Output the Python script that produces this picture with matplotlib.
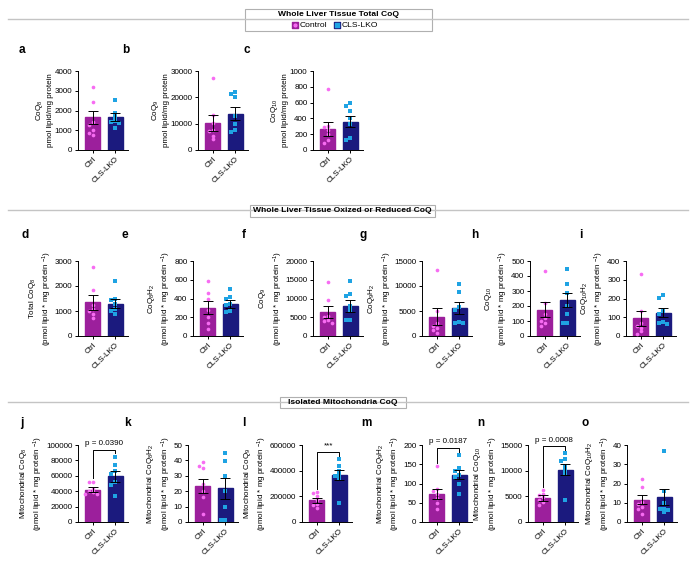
import numpy as np
import matplotlib
matplotlib.use("Agg")
import matplotlib.pyplot as plt
from matplotlib.patches import Rectangle

plt.rcParams['font.family'] = ['Liberation Sans', 'DejaVu Sans']
plt.rcParams['mathtext.fontset'] = 'custom'
plt.rcParams['mathtext.rm'] = 'Liberation Sans'
plt.rcParams['mathtext.it'] = 'Liberation Sans:italic'

# ---- data ----
groups = ["Ctrl", "CLS-LKO"]
panels = list("abcdefghijklmno")

ctrl_mean = [1650, 10300, 270, 1350, 300, 6400, 3900, 175, 95, 42000, 23.5, 170000, 74, 4700, 11.5]
ctrl_sem = [320, 3000, 90, 290, 70, 1550, 1650, 50, 40, 3200, 4.6, 20000, 13, 550, 2.4]
ko_mean = [1650, 13800, 360, 1300, 340, 8100, 5600, 240, 125, 59500, 21.8, 365000, 123, 10200, 13]
ko_sem = [200, 2500, 72, 180, 40, 1600, 1150, 47, 25, 7000, 6.9, 40000, 12, 1100, 4.2]

ctrl_pts = {
    'a': [3170, 2450, 1420, 1260, 1020, 860, 740],
    'b': [27300, 13400, 10200, 7600, 7200, 5500, 4000],
    'c': [770, 310, 290, 250, 200, 130, 90],
    'd': [2780, 1860, 1250, 1100, 1000, 900, 730],
    'e': [590, 460, 390, 280, 200, 140, 80],
    'f': [14300, 9600, 5300, 5000, 4200, 3900, 3600],
    'g': [13200, 5100, 2700, 2100, 1600, 1200, 600],
    'h': [435, 220, 150, 120, 100, 85, 70],
    'i': [332, 135, 70, 55, 45, 25, 10],
    'j': [52500, 51500, 43000, 40000, 38500, 37000, 36000],
    'k': [38.7, 36.5, 35, 25, 20, 16, 5.5],
    'l': [235000, 225000, 200000, 170000, 140000, 130000, 110000],
    'm': [145, 85, 80, 72, 62, 50, 35],
    'n': [6200, 5500, 5300, 4800, 4300, 3900, 3400],
    'o': [22.5, 18, 10.5, 9.5, 8, 7, 4],
}
ko_pts = {
    'a': [2550, 1870, 1650, 1450, 1400, 1350, 1100],
    'b': [21900, 21200, 20200, 12800, 10000, 7500, 6900],
    'c': [590, 560, 490, 400, 330, 150, 130],
    'd': [2200, 1500, 1450, 1300, 1100, 1000, 900],
    'e': [505, 420, 390, 340, 330, 270, 260],
    'f': [14800, 11300, 10700, 8000, 6900, 4300, 4200],
    'g': [10500, 8900, 5800, 5300, 2800, 2600, 2600],
    'h': [445, 345, 285, 200, 150, 90, 85],
    'i': [220, 205, 135, 120, 75, 70, 65],
    'j': [85000, 74000, 66000, 62000, 52000, 48000, 34000],
    'k': [45, 39.5, 30, 20, 10, 1, 1],
    'l': [490000, 440000, 400000, 370000, 360000, 340000, 150000],
    'm': [174, 139, 133, 122, 118, 100, 74],
    'n': [13400, 12200, 11800, 11000, 10200, 9400, 4200],
    'o': [37, 16, 10, 7, 6.5, 6, 5],
}
pvals = {'j': 'p = 0.0390', 'l': '***', 'm': 'p = 0.0187', 'n': 'p = 0.0008'}

ymax = [4000, 30000, 1000, 3000, 800, 20000, 15000, 500, 400, 100000, 50, 600000, 200, 15000, 40]
ystep = [1000, 10000, 200, 1000, 200, 5000, 5000, 100, 100, 20000, 10, 200000, 50, 5000, 10]

unit = "(pmol lipid * mg protein $^{-1}$)"
ylabels = [
    "CoQ$_8$\npmol lipid/mg protein",
    "CoQ$_9$\npmol lipid/mg protein",
    "CoQ$_{10}$\npmol lipid/mg protein",
    "Total CoQ$_8$\n" + unit,
    "CoQ$_8$H$_2$\n" + unit,
    "CoQ$_9$\n" + unit,
    "CoQ$_9$H$_2$\n" + unit,
    "CoQ$_{10}$\n" + unit,
    "CoQ$_{10}$H$_2$\n" + unit,
    "Mitochondrial CoQ$_8$\n" + unit,
    "Mitochondrial CoQ$_8$H$_2$\n" + unit,
    "Mitochondrial CoQ$_9$\n" + unit,
    "Mitochondrial CoQ$_9$H$_2$\n" + unit,
    "Mitochondrial CoQ$_{10}$\n" + unit,
    "Mitochondrial CoQ$_{10}$H$_2$\n" + unit,
]

# ---- layout (pixels) ----
W, H = 700, 578
ax_left = [78, 198, 313, 78, 193, 313, 422, 530, 626, 78, 188, 302, 422, 528, 627]
ax_top = [71] * 3 + [261] * 6 + [445] * 6
ax_bot = [150] * 3 + [336] * 6 + [522] * 6
lab_x = [19, 122, 244, 22, 122, 242, 359, 471, 579, 20, 124, 242, 361, 477, 581]
lab_y = [50] * 3 + [235] * 6 + [423] * 6
AXW = 50
FS = 5.8

c_bar, c_pt = '#9c1f9c', '#f76cf2'
k_bar, k_pt = '#1b1a7e', '#1fa3e3'

fig = plt.figure(figsize=(7, 5.78), dpi=100)


def swarm(vals, ym, hpx):
    order = np.argsort(vals)[::-1]
    placed = []
    offs = np.zeros(len(vals))
    for i in order:
        ypx = vals[i] / ym * hpx
        for cand in [0, -3.8, 3.8, -7.6, 7.6, -11.4, 11.4]:
            if all(abs(ypx - py) >= 3.4 or abs(cand - px) >= 3.6 for px, py in placed):
                break
        placed.append((cand, ypx))
        offs[i] = cand / 22.0
    return offs


for n, p in enumerate(panels):
    hpx = ax_bot[n] - ax_top[n]
    ax = fig.add_axes([ax_left[n] / W, 1 - ax_bot[n] / H, AXW / W, hpx / H])
    means = [ctrl_mean[n], ko_mean[n]]
    sems = [ctrl_sem[n], ko_sem[n]]
    ax.bar([0, 1], means, width=0.66, color=[c_bar, k_bar], edgecolor=[c_bar, k_bar], zorder=1)
    for x, v, cpt, mk in [(0, ctrl_pts[p], c_pt, 'o'), (1, ko_pts[p], k_pt, 's')]:
        v = np.array(v, dtype=float)
        ax.scatter(x + swarm(v, ymax[n], hpx), v, s=7, marker=mk, color=cpt, linewidths=0, zorder=3)
    ax.errorbar([0, 1], means, yerr=sems, fmt='none', ecolor='black', elinewidth=0.7,
                capsize=3.3, capthick=0.7, zorder=4)
    ax.set_xlim(-0.66, 1.57)
    ax.set_ylim(0, ymax[n])
    ax.set_yticks(np.arange(0, ymax[n] + ystep[n] / 2, ystep[n]))
    ax.set_xticks([0, 1])
    ax.set_xticklabels(groups, rotation=45, ha='right', rotation_mode='anchor')
    for s in ['top', 'right']:
        ax.spines[s].set_visible(False)
    for s in ['left', 'bottom']:
        ax.spines[s].set_linewidth(0.7)
    ax.tick_params(labelsize=FS, width=0.7, length=2.5, pad=1.5)
    ax.set_ylabel(ylabels[n], fontsize=FS, labelpad=0.5, linespacing=1.35)
    fig.text(lab_x[n] / W, 1 - lab_y[n] / H, p, fontsize=8.5, fontweight='bold', va='center')
    if p in pvals:
        r = ymax[n]
        lc = max(max(ctrl_pts[p]), ctrl_mean[n] + ctrl_sem[n]) + 0.04 * r
        lk = max(max(ko_pts[p]), ko_mean[n] + ko_sem[n]) + 0.04 * r
        top = max(lc, lk) + 0.05 * r
        ax.plot([0, 0, 1, 1], [lc, top, top, lk], color='black', lw=0.7, clip_on=False)
        ax.text(0.5, top + 0.035 * r, pvals[p], ha='center', va='bottom', fontsize=FS)

# ---- section headers ----
ov = fig.add_axes([0, 0, 1, 1], zorder=-1)
ov.set_xlim(0, W)
ov.set_ylim(H, 0)
ov.axis('off')
headers = [
    (19, 245, 432, 9, 31, "Whole Liver Tissue Total CoQ"),
    (210, 250, 435, 205, 217, "Whole Liver Tissue Oxized or Reduced CoQ"),
    (402, 280, 406, 397, 408, "Isolated Mitochondria CoQ"),
]
for y, x0, x1, y0, y1, txt in headers:
    ov.plot([8, 688], [y, y], color='#c4c4c4', lw=1)
    ov.add_patch(Rectangle((x0, y0), x1 - x0, y1 - y0, facecolor='white', edgecolor='#b0b0b0', lw=0.8))
    ty = 15 if y1 - y0 > 15 else (y0 + y1) / 2
    ov.text((x0 + x1) / 2, ty, txt, ha='center', va='center', fontsize=6.1, fontweight='bold')

# legend inside the first header box
ov.scatter([295], [25], s=24, marker='s', color=c_bar)
ov.scatter([295], [25], s=4, marker='o', color=c_pt)
ov.text(300, 25.5, "Control", fontsize=6.1, va='center')
ov.scatter([337], [25], s=24, marker='s', color=k_bar)
ov.scatter([337], [25], s=5, marker='s', color=k_pt)
ov.text(342, 25.5, "CLS-LKO", fontsize=6.1, va='center')

fig.savefig("out.png", dpi=100)
